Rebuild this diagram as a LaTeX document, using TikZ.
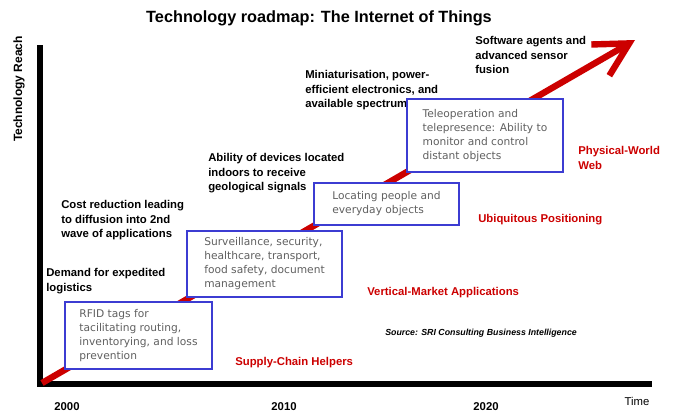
\documentclass[tikz,border=0pt]{standalone}
\usepackage{fontspec}
\setmainfont{Liberation Sans}
\newfontfamily\boxfont{DejaVu Sans}
\usepackage{xcolor}
\usepackage{tikz}
\usetikzlibrary{arrows.meta}
\definecolor{roadred}{RGB}{204,0,0}
\definecolor{boxblue}{RGB}{60,60,210}
\definecolor{boxtext}{RGB}{96,96,96}

\begin{document}
\begin{tikzpicture}[x=0.75pt,y=-0.75pt,inner sep=0pt,
  note/.style={anchor=north west,align=left,font=\fontsize{8.5}{11}\selectfont\bfseries},
  phase/.style={anchor=west,align=left,text=roadred,font=\fontsize{8.5}{11.5}\selectfont\bfseries},
  stage/.style={draw=boxblue,fill=white,line width=0.9pt,text=boxtext,align=left,
    font=\boxfont\fontsize{8}{10.5}\selectfont},
  year/.style={font=\fontsize{8.5}{10}\selectfont\bfseries}]
\useasboundingbox (0,0) rectangle (673,412);

\node[font=\fontsize{12.2}{14}\selectfont\bfseries] (title) at (319,18) {Technology roadmap: The Internet of Things};

\coordinate (top) at (40,45);
\coordinate (O) at (40,384);
\coordinate (right) at (652,384);
\draw[line width=5pt] (top) -- (O) -- (right);

\node[year,rotate=90,font=\fontsize{9}{10}\selectfont\bfseries] (reach) at (19,89) {Technology Reach};
\node[year] (y2000) at (67,407) {2000};
\node[year] (y2010) at (284,407) {2010};
\node[year] (y2020) at (486,407) {2020};
\node[font=\fontsize{8.5}{10}\selectfont] (time) at (637,401) {Time};

\node[note] (n1) at (46,268) {Demand for expedited\\logistics};
\node[note] (n2) at (61,200) {Cost reduction leading\\to diffusion into 2nd\\wave of applications};
\node[note] (n3) at (208,153) {Ability of devices located\\indoors to receive\\geological signals};
\node[note] (n4) at (305,70) {Miniaturisation, power-\\efficient electronics, and\\available spectrum};
\node[note] (n5) at (475,36) {Software agents and\\advanced sensor\\fusion};

\coordinate (start) at (42,383);
\coordinate (tip) at (635,40);
\draw[roadred,line width=4.8pt,-{Straight Barb[length=25pt,width=27pt]}] (start) -- (tip);

\node[stage,minimum width=110.25pt,minimum height=50.25pt] (A) at (138.5,335.5)
  {RFID tags for\\tacilitating routing,\\inventorying, and loss\\prevention};
\node[stage,minimum width=116.25pt,minimum height=49.5pt] (B) at (264.5,264)
  {Surveillance, security,\\healthcare, transport,\\food safety, document\\management};
\node[stage,minimum width=108.75pt,minimum height=31.5pt] (C) at (386.5,204)
  {Locating people and\\everyday objects};
\node[stage,minimum width=117pt,minimum height=54.75pt] (D) at (485,135.5)
  {Teleoperation and\\telepresence: Ability to\\monitor and control\\distant objects};

\node[phase] (p1) at (235,363) {Supply-Chain Helpers};
\node[phase] (p2) at (367,293) {Vertical-Market Applications};
\node[phase] (p3) at (478,220) {Ubiquitous Positioning};
\node[phase,anchor=north west] (p4) at (578,146) {Physical-World\\Web};

\node[anchor=west,font=\fontsize{6.6}{8}\selectfont\bfseries\itshape] (src) at (385,333)
  {Source: SRI Consulting Business Intelligence};
\end{tikzpicture}
\end{document}
